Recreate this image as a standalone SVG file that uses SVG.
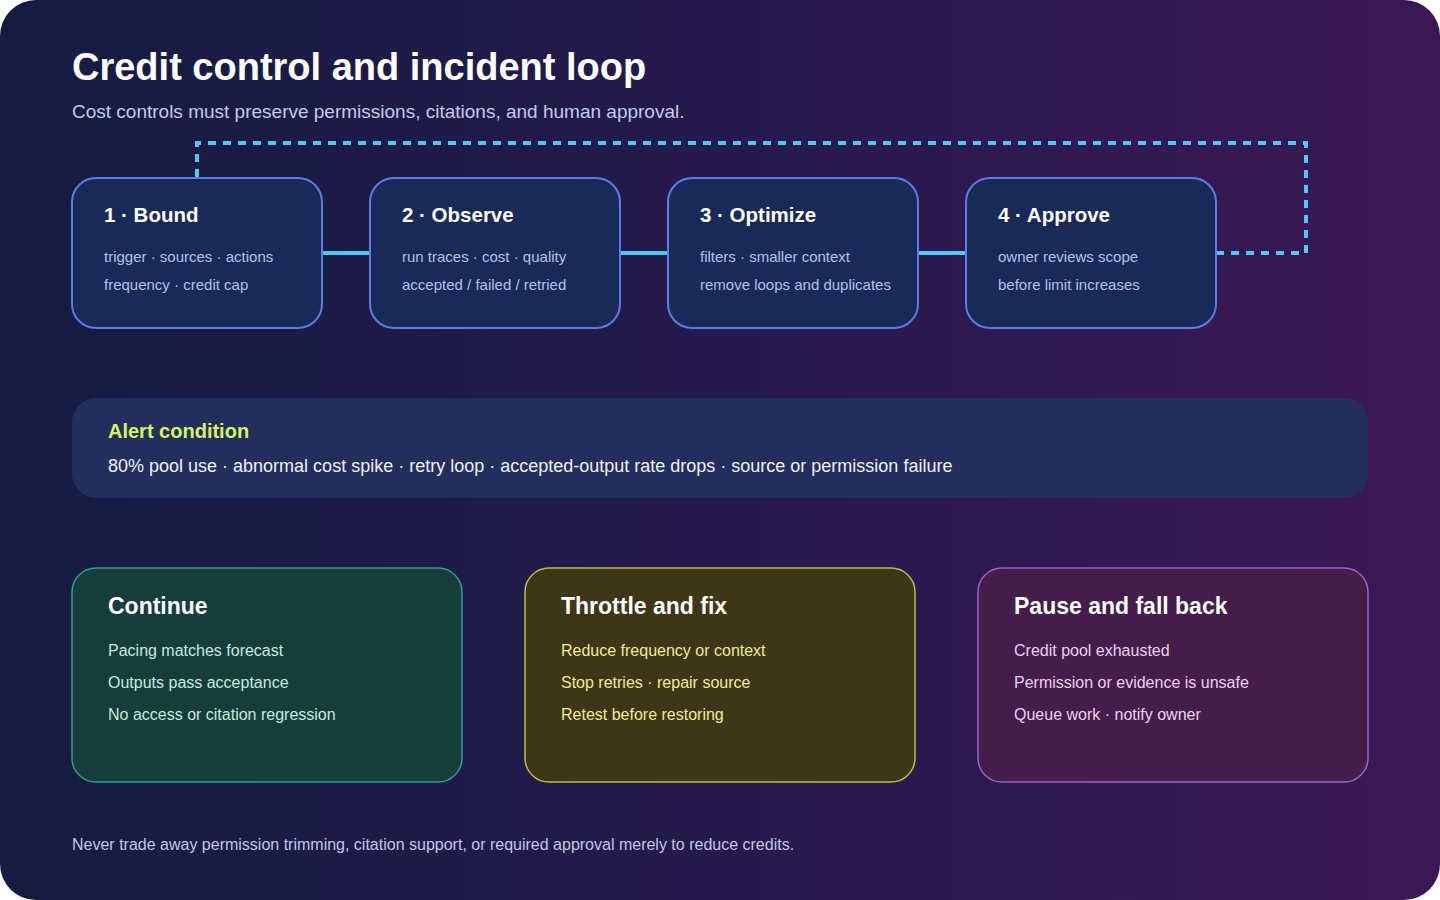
<svg xmlns="http://www.w3.org/2000/svg" width="1440" height="900" viewBox="0 0 1440 900">
<defs>
<linearGradient id="bg" x1="0" y1="0" x2="1" y2="0">
<stop offset="0" stop-color="#151c40"/>
<stop offset="0.5" stop-color="#251a4c"/>
<stop offset="1" stop-color="#3b1855"/>
</linearGradient>
<style>
text{font-family:"Liberation Sans",Arial,sans-serif}
.title{font-size:38px;font-weight:bold;fill:#ffffff}
.sub{font-size:19px;fill:#c3cbe8}
.step rect{fill:#1a2a58;stroke:#5c7ce6;stroke-width:2}
.st{font-size:20.5px;font-weight:bold;fill:#ffffff}
.sl{font-size:15px;fill:#b6c1e6}
.conn{stroke:#4fc8f5;stroke-width:4;fill:none}
.dash{stroke-dasharray:8 7}
.ct{font-size:23px;font-weight:bold;fill:#ffffff}
.cl{font-size:16px}
</style>
</defs>
<rect x="0" y="0" width="1440" height="900" rx="36" fill="url(#bg)"/>
<text class="title" x="72" y="80">Credit control and incident loop</text>
<text class="sub" x="72" y="118">Cost controls must preserve permissions, citations, and human approval.</text>

<g id="connectors">
<line class="conn" x1="322" y1="253" x2="370" y2="253"/>
<line class="conn" x1="620" y1="253" x2="668" y2="253"/>
<line class="conn" x1="918" y1="253" x2="966" y2="253"/>
<polyline class="conn dash" points="1216,253 1306,253 1306,143 197,143 197,178"/>
</g>

<g id="step1" class="step">
<rect x="72" y="178" width="250" height="150" rx="24"/>
<text class="st" x="104" y="222">1 · Bound</text>
<text class="sl" x="104" y="262">trigger · sources · actions</text>
<text class="sl" x="104" y="290">frequency · credit cap</text>
</g>
<g id="step2" class="step">
<rect x="370" y="178" width="250" height="150" rx="24"/>
<text class="st" x="402" y="222">2 · Observe</text>
<text class="sl" x="402" y="262">run traces · cost · quality</text>
<text class="sl" x="402" y="290">accepted / failed / retried</text>
</g>
<g id="step3" class="step">
<rect x="668" y="178" width="250" height="150" rx="24"/>
<text class="st" x="700" y="222">3 · Optimize</text>
<text class="sl" x="700" y="262">filters · smaller context</text>
<text class="sl" x="700" y="290">remove loops and duplicates</text>
</g>
<g id="step4" class="step">
<rect x="966" y="178" width="250" height="150" rx="24"/>
<text class="st" x="998" y="222">4 · Approve</text>
<text class="sl" x="998" y="262">owner reviews scope</text>
<text class="sl" x="998" y="290">before limit increases</text>
</g>

<g id="alert">
<rect x="72" y="398" width="1296" height="100" rx="24" fill="#222e5c"/>
<text x="108" y="438" font-size="20" font-weight="bold" fill="#d4f55c">Alert condition</text>
<text x="108" y="472" font-size="18" fill="#eef1fb">80% pool use · abnormal cost spike · retry loop · accepted-output rate drops · source or permission failure</text>
</g>

<g id="continue">
<rect x="72" y="568" width="390" height="214" rx="24" fill="#173d3b" stroke="#2f9c95" stroke-width="1.5"/>
<text class="ct" x="108" y="614">Continue</text>
<text class="cl" x="108" y="656" fill="#c4ecde">Pacing matches forecast</text>
<text class="cl" x="108" y="688" fill="#c4ecde">Outputs pass acceptance</text>
<text class="cl" x="108" y="720" fill="#c4ecde">No access or citation regression</text>
</g>
<g id="throttle">
<rect x="525" y="568" width="390" height="214" rx="24" fill="#3d3617" stroke="#b9bd45" stroke-width="1.5"/>
<text class="ct" x="561" y="614">Throttle and fix</text>
<text class="cl" x="561" y="656" fill="#f1ec98">Reduce frequency or context</text>
<text class="cl" x="561" y="688" fill="#f1ec98">Stop retries · repair source</text>
<text class="cl" x="561" y="720" fill="#f1ec98">Retest before restoring</text>
</g>
<g id="pause">
<rect x="978" y="568" width="390" height="214" rx="24" fill="#441d4a" stroke="#9a63c4" stroke-width="1.5"/>
<text class="ct" x="1014" y="614">Pause and fall back</text>
<text class="cl" x="1014" y="656" fill="#ecd3f0">Credit pool exhausted</text>
<text class="cl" x="1014" y="688" fill="#ecd3f0">Permission or evidence is unsafe</text>
<text class="cl" x="1014" y="720" fill="#ecd3f0">Queue work · notify owner</text>
</g>

<text x="72" y="850" font-size="16" fill="#c0c8e4">Never trade away permission trimming, citation support, or required approval merely to reduce credits.</text>
</svg>
